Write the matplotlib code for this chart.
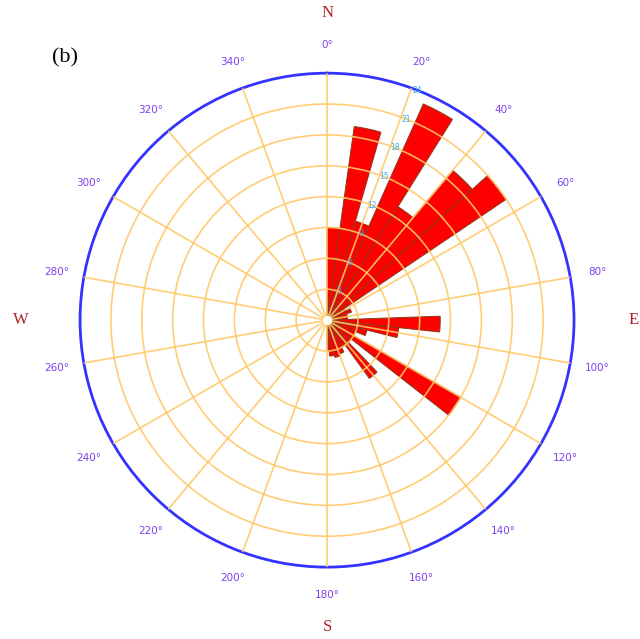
import numpy as np
import matplotlib
matplotlib.use('Agg')
import matplotlib.pyplot as plt

# rose diagram, 8 degree bins over 0-180
bin_start = [0, 8, 16, 24, 32, 40, 48, 56, 64, 72, 80, 88, 96, 104, 112, 120, 128, 136, 144, 152, 160, 168, 176]
bin_width = [8, 8, 8, 8, 8, 8, 8, 8, 8, 8, 8, 8, 8, 8, 8, 8, 8, 8, 8, 8, 8, 8, 4]
counts = [9, 19, 10, 23, 13, 19, 21, 2, 2.5, 2, 2, 11, 7, 4, 3, 15, 3, 7, 3, 3.5, 3.7, 3.5, 3]

ring_values = [3, 6, 9, 12, 15, 18, 21, 24]
angle_ticks = list(range(0, 360, 20))
compass = [('N', 0), ('E', 90), ('S', 180), ('W', 270)]

fig = plt.figure(figsize=(6.4, 6.39), dpi=100)
ax = fig.add_axes([0.125, 0.1125, 0.772, 0.773], projection='polar')
ax.set_theta_zero_location('N')
ax.set_theta_direction(-1)
ax.set_ylim(0, 24)

ax.bar(np.radians(bin_start), counts, width=np.radians(bin_width), align='edge',
       color='#ff0000', edgecolor='#8a3a1c', linewidth=0.7)

# grid
ax.set_xticks(np.radians(angle_ticks))
ax.set_xticklabels([])
ax.set_yticks(ring_values[:-1])
ax.set_yticklabels([])
ax.set_axisbelow(False)
ax.grid(True, color='#ffc866', linewidth=1.2, alpha=0.9)
ax.tick_params(length=0)
ax.spines['polar'].set_color('#3333ff')
ax.spines['polar'].set_linewidth(2)

# centre dot
ax.scatter([0], [0], s=30, c='white', zorder=5)

# radial scale labels
for v in ring_values:
    ax.text(np.radians(21.5), v, str(v), color='#3aa8f0', fontsize=5.5,
            ha='center', va='center', zorder=6)

# angle labels
for a in angle_ticks:
    ax.text(np.radians(a), 26.7, f'{a}\u00b0', color='#8040ee', fontsize=7.5,
            ha='center', va='center', clip_on=False)

for name, a in compass:
    ax.text(np.radians(a), 29.8, name, color='#b0202a', fontsize=12,
            family='Liberation Serif', ha='center', va='center', clip_on=False)

fig.text(0.102, 0.91, '(b)', fontsize=16, family='Liberation Serif', ha='center', va='center')

fig.savefig('out.png', dpi=100)
